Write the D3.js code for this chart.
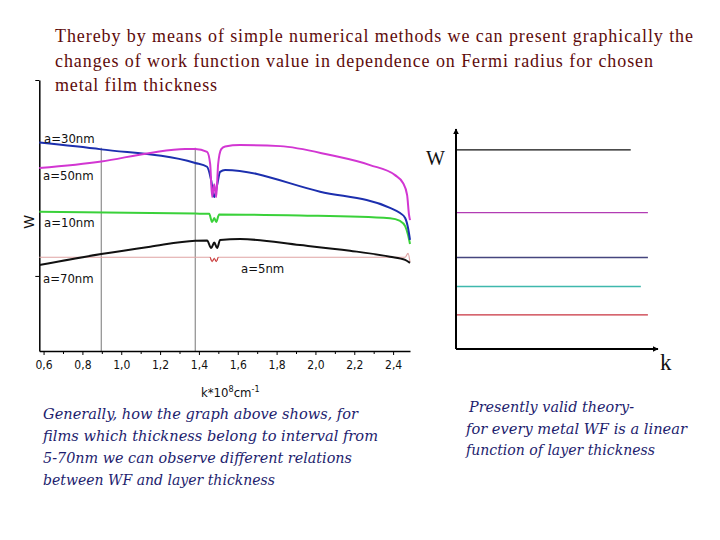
<!DOCTYPE html>
<html>
<head>
<meta charset="utf-8">
<script src="https://cdn.jsdelivr.net/npm/d3@7"></script>
<style>
  body { margin: 0; background: #fff; }
</style>
</head>
<body>
<div id="chart"></div>
<script>
// x axis ticks (k * 10^8 cm^-1)
const kTicks = [0.6, 0.8, 1.0, 1.2, 1.4, 1.6, 1.8, 2.0, 2.2, 2.4];
const kMinorTicks = [0.7, 0.9, 1.1, 1.3, 1.5, 1.7, 1.9, 2.1, 2.3];
const wTicks = [27.7, 100];
const guideK = [0.897, 1.381];

// work function curves, [k, W] (W in arbitrary units)
const a30 = [[0.578, 76.9], [0.897, 74.4], [1.381, 69.4], [1.442, 68.0], [1.463, 63.0], [1.479, 56.8],
  [1.494, 61.3], [1.509, 66.1], [1.535, 66.8], [2.024, 58.8], [2.384, 52.8], [2.436, 50.9],
  [2.462, 49.1], [2.477, 45.4], [2.487, 41.0]];
const a50 = [[0.578, 67.5], [0.897, 69.9], [1.149, 73.1], [1.329, 74.5], [1.381, 74.5], [1.442, 73.5],
  [1.458, 69.0], [1.468, 56.8], [1.479, 61.5], [1.489, 56.8], [1.499, 69.0], [1.515, 74.5],
  [1.535, 75.5], [1.612, 76.0], [1.818, 75.6], [2.076, 72.3], [2.281, 68.6], [2.410, 64.9],
  [2.451, 62.0], [2.472, 57.6], [2.482, 50.2], [2.487, 48.3]];
const a10 = [[0.578, 51.4], [1.381, 50.7], [1.453, 50.6], [1.468, 47.6], [1.479, 49.1], [1.489, 47.6],
  [1.504, 50.4], [1.921, 50.0], [2.384, 49.0], [2.436, 48.0], [2.462, 46.1], [2.477, 42.8], [2.487, 39.5]];
const a70 = [[0.578, 31.7], [0.897, 35.8], [1.149, 38.5], [1.381, 40.7], [1.442, 40.8], [1.463, 38.0],
  [1.479, 40.0], [1.494, 38.0], [1.509, 41.0], [1.612, 41.3], [1.921, 39.1], [2.178, 37.0],
  [2.384, 34.8], [2.462, 33.6], [2.487, 32.5]];
const a5 = [[0.578, 34.6], [1.458, 34.6], [1.468, 33.0], [1.479, 34.2], [1.489, 33.0], [1.499, 34.6],
  [2.462, 34.6], [2.477, 36.0], [2.487, 32.8]];

// schematic on the right: level of each line and where it ends
const levelW = [0.905, 0.62, 0.416, 0.284, 0.155];
const levelEnd = [0.865, 0.95, 0.95, 0.915, 0.95];
const levelColor = ["#111", "#b23cb4", "#45457e", "#3fb8ad", "#c8323f"];

const titleLines = [
  "Thereby by means of simple numerical methods we can present  graphically the",
  "changes of  work function value in dependence on Fermi radius for chosen",
  "metal film thickness"
];
const leftNote = [
  "Generally, how the graph above  shows, for",
  "films which  thickness belong  to interval  from",
  "5-70nm  we can observe different relations",
  "between WF and layer thickness"
];
const rightNote = [
  "Presently valid theory-",
  "for every metal WF  is a linear",
  "function of layer thickness"
];

const narrow = "DejaVu Sans Condensed, Liberation Sans Narrow, Liberation Sans, sans-serif";

const svg = d3.select("#chart").append("svg")
    .attr("width", 720)
    .attr("height", 540)
    .style("background", "#fff");

// title
const titleWidths = [638, 598, 162];
svg.selectAll(".title")
    .data(titleLines)
    .enter().append("text")
    .attr("x", 55)
    .attr("y", (d, i) => 42 + i * 24.5)
    .attr("font-family", "Liberation Serif, Times New Roman, serif")
    .attr("font-size", "18px")
    .attr("fill", "#5e0b0b")
    .attr("textLength", (d, i) => titleWidths[i])
    .attr("lengthAdjust", "spacing")
    .text(d => d);

// left chart scales
const x = d3.scaleLinear().domain([0.578, 2.487]).range([39.3, 410]);
const y = d3.scaleLinear().domain([0, 100]).range([351, 80]);

// grey guide lines
svg.selectAll(".guide")
    .data(guideK)
    .enter().append("line")
    .attr("x1", d => x(d)).attr("x2", d => x(d))
    .attr("y1", y(75)).attr("y2", y(0))
    .attr("stroke", "#777")
    .attr("stroke-width", 1);

const xAxis = d3.axisBottom(x)
    .tickValues(kTicks)
    .tickSize(4)
    .tickSizeOuter(0)
    .tickFormat(d => d3.format(".1f")(d).replace(".", ","));

const gx = svg.append("g")
    .attr("transform", "translate(0," + y(0) + ")")
    .call(xAxis);
gx.select(".domain").attr("stroke-width", 1.5);
gx.selectAll("text")
    .attr("font-family", narrow)
    .attr("font-size", "12px")
    .attr("fill", "#111")
    .attr("dy", "0.95em");

svg.append("g")
    .attr("transform", "translate(0," + y(0) + ")")
    .call(d3.axisBottom(x).tickValues(kMinorTicks).tickSize(3).tickSizeOuter(0).tickFormat(""))
    .select(".domain").remove();

const gy = svg.append("g")
    .attr("transform", "translate(" + x(0.578) + ",0)")
    .call(d3.axisLeft(y).tickValues(wTicks).tickSize(4).tickSizeOuter(0).tickFormat(""));
gy.select(".domain").attr("stroke-width", 1.5);

// axis titles
const xLabel = svg.append("text")
    .attr("x", 201)
    .attr("y", 397)
    .attr("font-family", narrow)
    .attr("font-size", "13px")
    .attr("fill", "#111");
xLabel.append("tspan").text("k*10");
xLabel.append("tspan").attr("dy", -5).attr("font-size", "9px").text("8");
xLabel.append("tspan").attr("dy", 5).text("cm");
xLabel.append("tspan").attr("dy", -5).attr("font-size", "9px").text("-1");

svg.append("text")
    .attr("transform", "translate(34,222) rotate(-90)")
    .attr("text-anchor", "middle")
    .attr("font-family", "Liberation Sans, Arial, sans-serif")
    .attr("font-size", "14px")
    .attr("fill", "#111")
    .text("W");

// curves
const line = d3.line()
    .x(d => x(d[0]))
    .y(d => y(d[1]))
    .curve(d3.curveMonotoneX);

const series = [
  { data: a5, color: "#e0a4a4", width: 1.2 },
  { data: a70, color: "#111", width: 2 },
  { data: a10, color: "#3ad13a", width: 2 },
  { data: a30, color: "#1c2fae", width: 2 },
  { data: a50, color: "#d236d2", width: 2 }
];

svg.selectAll(".curve")
    .data(series)
    .enter().append("path")
    .attr("d", d => line(d.data))
    .attr("fill", "none")
    .attr("stroke", d => d.color)
    .attr("stroke-width", d => d.width);

// red wiggle of a=5nm curve
svg.append("path")
    .attr("d", line(a5.filter(d => d[0] > 1.45 && d[0] < 1.51)))
    .attr("fill", "none")
    .attr("stroke", "#cc3030")
    .attr("stroke-width", 1);

// curve labels
const curveLabels = [
  { text: "a=30nm", x: 44, y: 143 },
  { text: "a=50nm", x: 43, y: 180 },
  { text: "a=10nm", x: 44, y: 227 },
  { text: "a=70nm", x: 43, y: 283 },
  { text: "a=5nm", x: 241, y: 273 }
];
svg.selectAll(".clabel")
    .data(curveLabels)
    .enter().append("text")
    .attr("x", d => d.x)
    .attr("y", d => d.y)
    .attr("font-family", narrow)
    .attr("font-size", "13px")
    .attr("fill", "#111")
    .text(d => d.text);

// right schematic
const xr = d3.scaleLinear().domain([0, 1]).range([456, 658]);
const yr = d3.scaleLinear().domain([0, 1]).range([349, 129]);

svg.append("defs").append("marker")
    .attr("id", "arrow")
    .attr("viewBox", "0 0 10 10")
    .attr("refX", 9).attr("refY", 5)
    .attr("markerWidth", 6).attr("markerHeight", 6)
    .attr("markerUnits", "userSpaceOnUse")
    .attr("orient", "auto")
    .append("path")
    .attr("d", "M0,0L10,5L0,10z")
    .attr("fill", "#000");

svg.selectAll(".level")
    .data(levelW)
    .enter().append("line")
    .attr("x1", xr(0))
    .attr("x2", (d, i) => xr(levelEnd[i]))
    .attr("y1", d => yr(d))
    .attr("y2", d => yr(d))
    .attr("stroke", (d, i) => levelColor[i])
    .attr("stroke-width", 1.3);

svg.append("line")
    .attr("x1", xr(0)).attr("y1", yr(0))
    .attr("x2", xr(0)).attr("y2", yr(1))
    .attr("stroke", "#000").attr("stroke-width", 2)
    .attr("marker-end", "url(#arrow)");
svg.append("line")
    .attr("x1", xr(0)).attr("y1", yr(0))
    .attr("x2", xr(1)).attr("y2", yr(0))
    .attr("stroke", "#000").attr("stroke-width", 2)
    .attr("marker-end", "url(#arrow)");

svg.append("text")
    .attr("x", 426)
    .attr("y", 165)
    .attr("font-family", "Liberation Serif, Times New Roman, serif")
    .attr("font-size", "20px")
    .attr("fill", "#111")
    .text("W");
svg.append("text")
    .attr("x", 660)
    .attr("y", 370)
    .attr("font-family", "Liberation Serif, Times New Roman, serif")
    .attr("font-size", "23px")
    .attr("fill", "#111")
    .text("k");

// notes
const leftWidths = [315, 335, 309, 232];
svg.selectAll(".lnote")
    .data(leftNote)
    .enter().append("text")
    .attr("x", 43)
    .attr("y", (d, i) => 419 + i * 22)
    .attr("font-family", "DejaVu Serif, serif")
    .attr("font-style", "italic")
    .attr("font-size", "15.5px")
    .attr("fill", "#1d1d6e")
    .attr("textLength", (d, i) => leftWidths[i])
    .attr("lengthAdjust", "spacingAndGlyphs")
    .text(d => d);

const rightWidths = [165, 221, 189];
svg.selectAll(".rnote")
    .data(rightNote)
    .enter().append("text")
    .attr("x", (d, i) => i === 0 ? 469 : 466)
    .attr("y", (d, i) => 412 + i * 21.5)
    .attr("font-family", "DejaVu Serif, serif")
    .attr("font-style", "italic")
    .attr("font-size", "15.5px")
    .attr("fill", "#1d1d6e")
    .attr("textLength", (d, i) => rightWidths[i])
    .attr("lengthAdjust", "spacingAndGlyphs")
    .text(d => d);
</script>
</body>
</html>
